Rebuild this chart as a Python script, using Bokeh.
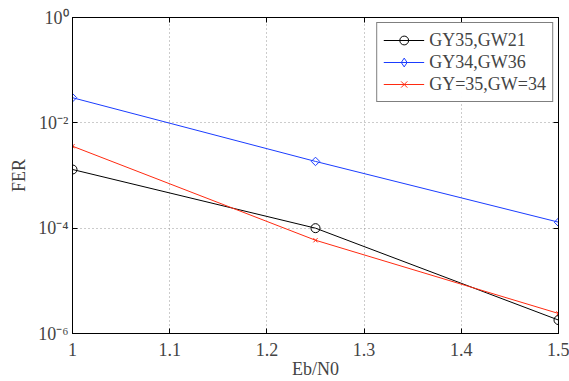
import math
from bokeh.plotting import figure
from bokeh.models import FixedTicker, CustomJSTickFormatter, LinearAxis, LogAxis, Range1d, Legend, LegendItem
from bokeh.embed import file_html
from bokeh.resources import INLINE

ebn0 = [1.0, 1.25, 1.5]
fer_gy35_gw21 = [1.3e-3, 1.0e-4, 1.8e-6]
fer_gy34_gw36 = [3.0e-2, 1.85e-3, 1.3e-4]
fer_gy35_gw34 = [3.6e-3, 5.9e-5, 2.4e-6]
x_ticks = [1, 1.1, 1.2, 1.3, 1.4, 1.5]
y_ticks = [1e-6, 1e-4, 1e-2, 1]

FONT = "Liberation Serif"

p = figure(width=569, height=381, y_axis_type="log", output_backend="svg", toolbar_location=None,
           x_range=Range1d(1, 1.5), y_range=Range1d(1e-6, 1),
           min_border_left=72, min_border_top=17, min_border_bottom=48, min_border_right=11)
p.background_fill_color = "white"
p.border_fill_color = "white"
p.outline_line_color = "black"
p.outline_line_width = 1

fmt = CustomJSTickFormatter(code="""
const e = Math.round(Math.log10(tick));
const sup = {'-':'\\u207b','0':'\\u2070','1':'\\u00b9','2':'\\u00b2','3':'\\u00b3','4':'\\u2074','5':'\\u2075','6':'\\u2076','7':'\\u2077','8':'\\u2078','9':'\\u2079'};
return '10' + String(e).split('').map(c => sup[c]).join('');
""")

for ax in p.xaxis:
    ax.ticker = FixedTicker(ticks=x_ticks)
    ax.axis_label = "Eb/N0"
for ax in p.yaxis:
    ax.ticker = FixedTicker(ticks=y_ticks)
    ax.formatter = fmt
    ax.axis_label = "FER"
for ax in p.xaxis + p.yaxis:
    ax.major_tick_in = 5
    ax.major_tick_out = 0
    ax.minor_tick_line_color = None
    ax.axis_line_color = "black"
    ax.major_label_text_font = FONT
    ax.major_label_text_font_size = "18px"
    ax.axis_label_text_font = FONT
    ax.axis_label_text_font_size = "18px"
    ax.axis_label_text_font_style = "normal"
    ax.axis_label_standoff = 0
p.xaxis.major_label_standoff = 9
p.yaxis.major_label_standoff = 4
p.yaxis.axis_label_standoff = 6

top = LinearAxis(ticker=FixedTicker(ticks=x_ticks), major_label_text_font_size="1px",
                 major_label_text_alpha=0, major_label_standoff=0,
                 major_tick_in=5, major_tick_out=0, minor_tick_line_color=None)
right = LogAxis(ticker=FixedTicker(ticks=y_ticks), major_label_text_font_size="1px",
                major_label_text_alpha=0, major_label_standoff=0,
                major_tick_in=5, major_tick_out=0, minor_tick_line_color=None)
p.add_layout(top, "above")
p.add_layout(right, "right")

p.xgrid.ticker = FixedTicker(ticks=x_ticks)
p.ygrid.ticker = FixedTicker(ticks=y_ticks)
for g in (p.xgrid, p.ygrid):
    g.grid_line_color = "#999999"
    g.grid_line_dash = "1 3"
    g.grid_line_width = 1

BLUE = "#1a3cff"
RED = "#ff2a10"
NAN = float("nan")

l1 = p.line(ebn0, fer_gy35_gw21, color="black", line_width=1)
m1 = p.scatter(ebn0, fer_gy35_gw21, marker="circle", size=9, fill_color=None, line_color="black")
l2 = p.line(ebn0, fer_gy34_gw36, color=BLUE, line_width=1)
m2 = p.scatter(ebn0, fer_gy34_gw36, marker="square", angle=math.pi / 4, size=6, fill_color=None, line_color=BLUE)
l3 = p.line(ebn0, fer_gy35_gw34, color=RED, line_width=1)
m3 = p.scatter(ebn0, fer_gy35_gw34, marker="x", size=6, line_color=RED)

# legend-only marker glyphs (legend does not rotate markers)
m2_leg = p.scatter(x=[NAN], y=[NAN], marker="diamond", size=10, fill_color=None, line_color=BLUE)
m1_leg = p.scatter(x=[NAN], y=[NAN], marker="circle", size=7, fill_color=None, line_color="black")

legend = Legend(items=[
    LegendItem(label="GY35,GW21", renderers=[l1, m1_leg]),
    LegendItem(label="GY34,GW36", renderers=[l2, m2_leg]),
    LegendItem(label="GY=35,GW=34", renderers=[l3, m3]),
], location="top_right")
legend.label_text_font = FONT
legend.label_text_font_size = "18px"
legend.border_line_color = "black"
legend.border_line_width = 1
legend.glyph_width = 41
legend.glyph_height = 22
legend.label_height = 22
legend.spacing = 0
legend.padding = 6
legend.margin = 5
legend.label_standoff = 5
p.add_layout(legend)

open("out.html", "w").write(file_html(p, INLINE))
